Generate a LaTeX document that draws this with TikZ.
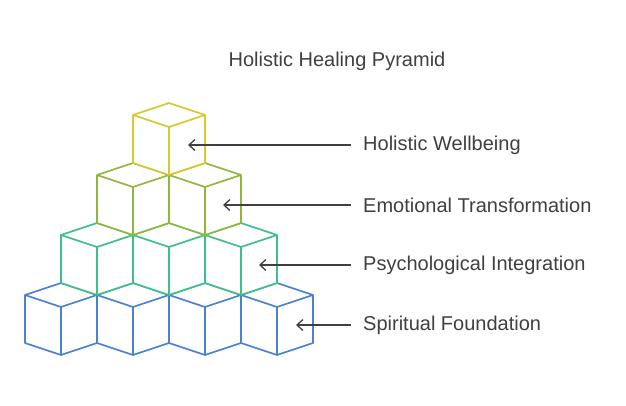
\documentclass[tikz,border=0pt]{standalone}
\usepackage{fontspec}
\setmainfont{Liberation Sans}
\definecolor{cy}{HTML}{D9C82A}
\definecolor{cg}{HTML}{8DB83C}
\definecolor{ct}{HTML}{3DBE8A}
\definecolor{cb}{HTML}{4A80D6}
\definecolor{tx}{HTML}{404040}
\newcommand{\cube}[3]{% cx, topy, color
  \filldraw[#3,fill=white,line width=1.6pt,line join=round]
    (#1,#2) -- (#1+36,#2+12) -- (#1+36,#2+60) -- (#1,#2+72) -- (#1-36,#2+60) -- (#1-36,#2+12) -- cycle;
  \draw[#3,line width=1.6pt,line join=round] (#1-36,#2+12) -- (#1,#2+24) -- (#1+36,#2+12) (#1,#2+24) -- (#1,#2+72);
}
\tikzset{lbl/.style={anchor=west,text=tx,inner sep=0pt,font=\fontsize{20}{24}\selectfont},
  arr/.style={draw=tx,line width=1.3pt,-{Straight Barb[length=6pt,width=11pt]}}}
\usetikzlibrary{arrows.meta}
\begin{document}
\begin{tikzpicture}[x=1pt,y=-1pt]
\useasboundingbox (0,0) rectangle (626,405);
\fill[white] (0,0) rectangle (626,405);
\foreach \x in {61,133,205,277} {\cube{\x}{283}{cb}}
\foreach \x in {97,169,241} {\cube{\x}{223}{ct}}
\foreach \x in {133,205} {\cube{\x}{163}{cg}}
\cube{169}{103}{cy}
\node[text=tx,font=\fontsize{20}{24}\selectfont] (title) at (337,61) {Holistic Healing Pyramid};
\node[lbl] (l1) at (363,145) {Holistic Wellbeing};
\node[lbl] (l2) at (363,205) {Emotional Transformation};
\node[lbl] (l3) at (363,265) {Psychological Integration};
\node[lbl] (l4) at (363,325) {Spiritual Foundation};
\coordinate (t1) at (188,145);
\coordinate (t2) at (223,205);
\coordinate (t3) at (259,265);
\coordinate (t4) at (296,325);
\foreach \i in {1,...,4} {\draw[arr] ([xshift=-12pt]l\i.west) -- (t\i);}
\end{tikzpicture}
\end{document}
